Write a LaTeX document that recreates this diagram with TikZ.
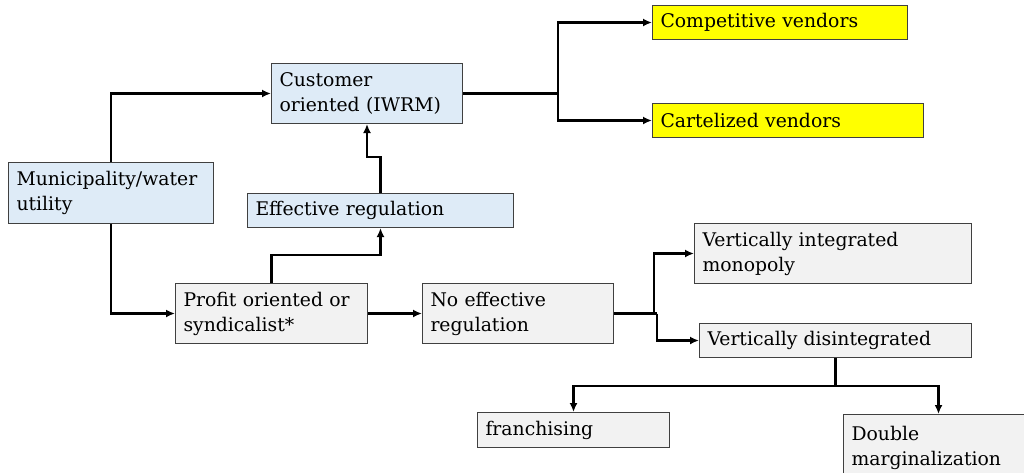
\documentclass[tikz,border=0pt]{standalone}
\usepackage{fontspec}
\setmainfont{DejaVu Serif}
\usetikzlibrary{arrows.meta}
\definecolor{boxblue}{RGB}{222,235,247}
\definecolor{boxgray}{RGB}{242,242,242}
\definecolor{boxyellow}{RGB}{255,255,0}
\definecolor{boxline}{RGB}{64,64,64}
\tikzset{
  basebox/.style={draw=boxline, line width=1pt, rectangle, anchor=north west,
    inner xsep=8pt, inner ysep=0pt, align=left, font=\fontsize{18.8}{25}\selectfont},
  bluebox/.style={basebox, fill=boxblue},
  graybox/.style={basebox, fill=boxgray},
  yellowbox/.style={basebox, fill=boxyellow},
  conn/.style={line width=2.4pt, draw=black, line join=miter},
  arr/.style={conn, -{Latex[length=9pt,width=8pt]}},
}
\newcommand{\bx}[7]{% style, name, x, y, w, h, text
  \node[#1, minimum width=#5pt, minimum height=#6pt, text width=\dimexpr#5pt-16pt\relax] (#2) at (#3,#4) {#7};}
\begin{document}
\begin{tikzpicture}[x=1pt,y=-1pt]
\useasboundingbox (0,0) rectangle (1024,472);
\bx{bluebox}{muni}{8}{162}{205}{61}{Municipality/water\\utility}
\bx{bluebox}{cust}{271}{63}{191}{60}{Customer\\oriented (IWRM)}
\bx{bluebox}{eff}{247}{193}{266}{34}{Effective regulation}
\bx{yellowbox}{comp}{652}{5}{255}{34}{Competitive vendors}
\bx{yellowbox}{cart}{652}{103}{271}{34}{Cartelized vendors}
\bx{graybox}{profit}{175}{283}{192}{60}{Profit oriented or\\syndicalist*}
\bx{graybox}{noeff}{422}{283}{191}{60}{No effective\\regulation}
\bx{graybox}{vint}{694}{223}{277}{60}{Vertically integrated\\monopoly}
\bx{graybox}{vdis}{699}{323}{272}{34}{Vertically disintegrated}
\bx{graybox}{fran}{477}{412}{192}{35}{franchising}
\bx{graybox}{dbl}{843}{414}{190}{66}{Double\\marginalization}
\coordinate (j1) at ([xshift=95pt]cust.east);
\coordinate (j3) at ([xshift=43pt]noeff.east);
\coordinate (j2) at ([xshift=-3pt]j3);
\coordinate (j4) at ([yshift=-28pt]vdis.south);
\draw[arr] (muni.north) |- (cust.west);
\draw[arr] (muni.south) |- (profit.west);
\draw[arr] (profit.north) -- ++(0,-28) -| (eff.south);
\draw[arr] (eff.north) -- ++(0,-36) -| (cust.south);
\draw[conn] (cust.east) -- (j1);
\draw[arr] (j1) |- (comp.west);
\draw[arr] (j1) |- (cart.west);
\draw[arr] (profit.east) -- (noeff.west);
\draw[conn] (noeff.east) -- (j3);
\draw[arr] (j2) |- (vint.west);
\draw[arr] (j3) |- (vdis.west);
\draw[conn] (vdis.south) -- (j4);
\draw[arr] (j4) -| (fran.north);
\draw[arr] (j4) -| (dbl.north);
\end{tikzpicture}
\end{document}
